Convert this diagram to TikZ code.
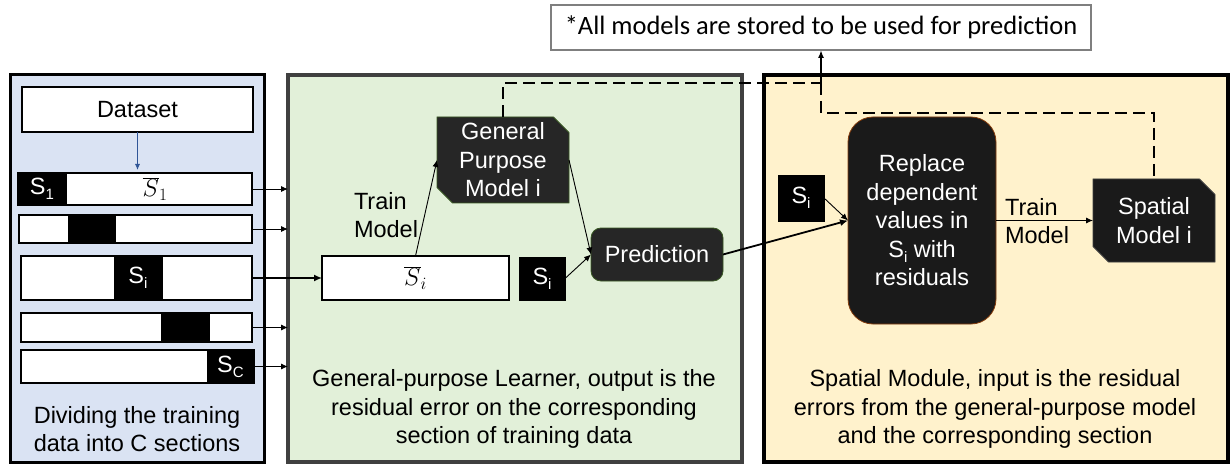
\documentclass[tikz,border=0pt]{standalone}
\usepackage{fontspec}
\setmainfont{Liberation Sans}
\newfontfamily\notefont{Carlito}
\usetikzlibrary{arrows.meta,shapes.misc}
\definecolor{bluefill}{HTML}{DAE3F3}
\definecolor{greenfill}{HTML}{E2F0D9}
\definecolor{yellowfill}{HTML}{FFF2CC}
\definecolor{greenborder}{HTML}{404040}
\definecolor{darkfill}{HTML}{262626}
\definecolor{nearblack}{HTML}{1A1A1A}
\definecolor{dkgreen}{HTML}{385723}
\definecolor{brownb}{HTML}{843C0C}
\definecolor{arrowblue}{HTML}{2F5597}
\definecolor{notegray}{HTML}{7F7F7F}
\newcommand\subx[1]{\raisebox{-5pt}{\fontsize{15}{15}\selectfont #1}}
\begin{document}
\begin{tikzpicture}[x=1pt,y=-1pt,
  every node/.style={font=\fontsize{23.5}{28.5}\selectfont, inner sep=0pt, outer sep=0pt},
  panel/.style={draw, anchor=north west},
  barbox/.style={draw=black, fill=white, line width=1.5pt, anchor=north west},
  blkbox/.style={fill=black, draw=black, line width=0.5pt, anchor=north west, text=white},
  snip/.style={chamfered rectangle, chamfered rectangle corners={north east,south west},
     chamfered rectangle xsep=12pt, anchor=north west, text=white, align=center, line width=0.8pt},
  darkround/.style={rounded corners=10pt, fill=darkfill, draw=dkgreen, line width=0.8pt, anchor=north west, text=white},
  arr/.style={-{Latex[length=7pt,width=6pt]}, line width=0.9pt},
  thickarr/.style={-{Latex[length=8pt,width=7pt]}, line width=1.8pt},
  dashln/.style={line width=1.8pt, dash pattern=on 12pt off 6pt}]
\useasboundingbox (0,0) rectangle (1231,465);
% panels
\node[panel, fill=bluefill, draw=black, line width=3pt, minimum width=254pt, minimum height=387pt] (left) at (10,75) {};
\node[panel, fill=greenfill, draw=greenborder, line width=4pt, minimum width=454pt, minimum height=387pt] (green) at (288,75) {};
\node[panel, fill=yellowfill, draw=black, line width=4pt, minimum width=464pt, minimum height=387pt] (yellow) at (764,75) {};
% note
\node[draw=notegray, line width=1.2pt, fill=white, anchor=north west, minimum width=540pt, minimum height=45pt, font=\notefont\fontsize{26.5}{30}\selectfont] (note) at (551,5) {*All models are stored to be used for prediction};
% left panel
\node[barbox, minimum width=231pt, minimum height=45pt] (dataset) at (22,87) {Dataset};
\node[barbox, minimum width=234pt, minimum height=32pt] (bar1) at (18,173) {};
\node[blkbox, minimum width=48pt, minimum height=32pt] (blk1) at (18,173) {S\subx{1}};
\node (sbar1) at (155,189) {$\overline{S}_1$};
\node[barbox, minimum width=233pt, minimum height=28pt] (bar2) at (19,215) {};
\node[blkbox, minimum width=47pt, minimum height=28pt] (blk2) at (68,215) {};
\node[barbox, minimum width=231pt, minimum height=44pt] (bar3) at (21,256) {};
\node[blkbox, minimum width=48pt, minimum height=44pt] (blk3) at (114,256) {S\subx{i}};
\node[barbox, minimum width=231pt, minimum height=29pt] (bar4) at (21,313) {};
\node[blkbox, minimum width=48pt, minimum height=29pt] (blk4) at (161,313) {};
\node[barbox, minimum width=233pt, minimum height=33pt] (bar5) at (21,350) {};
\node[blkbox, minimum width=47pt, minimum height=33pt] (blk5) at (207,350) {S\subx{C}};
\node[align=center] (lcap) at (137,429) {Dividing the training\\data into C sections};
\draw[-{Latex[length=6pt,width=5pt]}, arrowblue, line width=0.8pt] (dataset.south) -- ([yshift=3pt]dataset.south |- bar1.north);
\draw[arr] (bar1.east) -- (bar1.east -| green.west);
\draw[arr] (bar2.east) -- (bar2.east -| green.west);
\draw[arr] (bar4.east) -- (bar4.east -| green.west);
\draw[arr] (bar5.east) -- (bar5.east -| green.west);
% green panel
\node[barbox, minimum width=187pt, minimum height=44pt] (sbari) at (322,256) {$\overline{S}_i$};
\node[blkbox, minimum width=46pt, minimum height=43pt] (si1) at (519,257) {S\subx{i}};
\node[snip, fill=darkfill, draw=dkgreen, minimum width=132pt, minimum height=86pt] (gpm) at (437,117) {General\\Purpose\\Model i};
\node[darkround, minimum width=132pt, minimum height=53pt] (pred) at (591,228) {Prediction};
\node[align=left, anchor=west] (tm1) at (354,215) {Train\\Model};
\draw[thickarr, line width=1.5pt] (bar3.east) -- (sbari.west);
\draw[arr] (sbari.north) -- (gpm.west);
\draw[arr] (gpm.east) -- (pred.west);
\draw[arr] (si1.east) -- (pred.west);
\node[align=center] (gcap) at (514,409) {General-purpose Learner, output is the\\residual error on the corresponding\\section of training data};
% yellow panel
\node[blkbox, minimum width=46pt, minimum height=46pt] (si2) at (778,175) {S\subx{i}};
\node[rounded corners=25pt, fill=nearblack, draw=brownb, line width=0.8pt, anchor=north west, text=white, align=center, minimum width=148pt, minimum height=207pt] (repl) at (848,117) {Replace\\dependent\\values in\\S\subx{i} with\\residuals};
\node[snip, fill=nearblack, draw=greenborder, minimum width=122pt, minimum height=83pt] (spat) at (1093,179) {Spatial\\Model i};
\node[align=left, anchor=west] (tm2) at (1005,221) {Train\\Model};
\draw[thickarr] (pred.east) -- (repl.west);
\draw[arr] (si2.east) -- (repl.west);
\draw[arr] (repl.east) -- (spat.west);
\node[align=center] (ycap) at (995,409) {Spatial Module, input is the residual\\errors from the general-purpose model\\and the corresponding section};
% dashed storage path
\coordinate (j) at (821,83);
\coordinate (k) at (821,113);
\draw[dashln] (gpm.north) |- (j);
\draw[dashln] (j) -- (k) -| (spat.north);
\draw[-{Latex[length=8pt,width=6pt]}, line width=1.8pt] (j) -- (j |- note.south);
\end{tikzpicture}
\end{document}
